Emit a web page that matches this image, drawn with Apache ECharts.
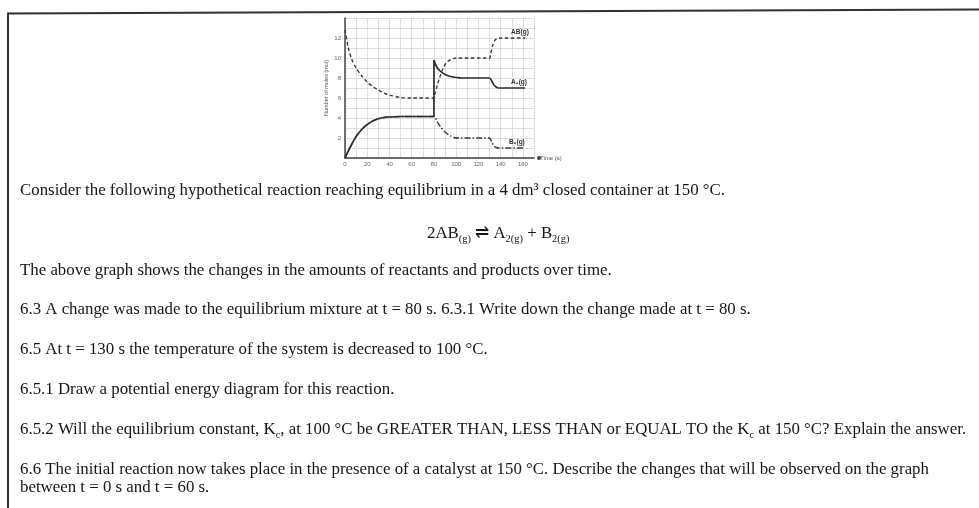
<!DOCTYPE html>
<html>
<head>
<meta charset="utf-8">
<script src="https://cdn.jsdelivr.net/npm/echarts@6/dist/echarts.min.js"></script>
<style>
html,body{margin:0;padding:0;background:#fff;}
#c{width:979px;height:508px;}
</style>
</head>
<body>
<div id="c"></div>
<script>
// ---- data ----
const seriesNames = ['AB(g)', 'A\u2082(g)', 'B\u2082(g)'];
const timeAB = [0, 3, 6, 10, 15, 20, 25, 30, 35, 40, 50, 60, 80, 81, 83, 85, 88, 91, 95, 100, 130, 131, 133, 135, 137, 140, 162];
const molesAB = [12.8, 11.0, 9.9, 9.0, 8.2, 7.6, 7.15, 6.8, 6.5, 6.3, 6.05, 6, 6, 6.4, 7.3, 8.0, 8.9, 9.5, 9.85, 10, 10, 10.4, 11.3, 11.8, 11.95, 12, 12];
const timeA2 = [0, 5, 10, 15, 20, 25, 30, 35, 40, 50, 80, 80, 82, 85, 90, 95, 100, 105, 130, 132, 134, 136, 138, 162];
const molesA2 = [0, 1.15, 2.15, 2.85, 3.35, 3.7, 3.92, 4.05, 4.1, 4.15, 4.15, 9.8, 9.2, 8.75, 8.35, 8.15, 8.05, 8, 8, 7.7, 7.3, 7.1, 7, 7];
const timeB2 = [0, 5, 10, 15, 20, 25, 30, 35, 40, 50, 80, 83, 86, 90, 94, 98, 102, 130, 132, 134, 136, 138, 160];
const molesB2 = [0, 1.15, 2.15, 2.85, 3.35, 3.7, 3.92, 4.05, 4.1, 4.15, 4.15, 3.6, 3.1, 2.6, 2.25, 2.05, 2, 2, 1.6, 1.2, 1.05, 1, 1];
const xTickLabels = [0, 20, 40, 60, 80, 100, 120, 140, 160];
const yTickLabels = [2, 4, 6, 8, 10, 12];
const xAxisName = 'Time (s)';
const yAxisName = 'Number of moles (mol)';

// ---- question text ----
const textLines = [
  'Consider the following hypothetical reaction reaching equilibrium in a 4 dm\u00b3 closed container at 150 \u00b0C.',
  '{m|2AB}{s|(g)}{m| \u21cc A}{s|2(g)}{m| + B}{s|2(g)}',
  'The above graph shows the changes in the amounts of reactants and products over time.',
  '6.3 A change was made to the equilibrium mixture at t = 80 s. 6.3.1 Write down the change made at t = 80 s.',
  '6.5 At t = 130 s the temperature of the system is decreased to 100 \u00b0C.',
  '6.5.1 Draw a potential energy diagram for this reaction.',
  '{m|6.5.2 Will the equilibrium constant, K}{s|c}{m|, at 100 \u00b0C be GREATER THAN, LESS THAN or EQUAL TO the K}{s|c}{m| at 150 \u00b0C? Explain the answer.}',
  '6.6 The initial reaction now takes place in the presence of a catalyst at 150 \u00b0C. Describe the changes that will be observed on the graph',
  'between t = 0 s and t = 60 s.'
];
const lineY = [191, 234, 271, 310, 350, 390, 430, 470, 488];
const lineX = [20, 427, 20, 20, 20, 20, 20, 20, 20];

// font size fitted so that the longest line spans ~947px (as in the reference)
const SERIF = '"Liberation Serif", "Times New Roman", serif';
const SANS = '"Liberation Sans", Arial, sans-serif';
const mctx = document.createElement('canvas').getContext('2d');
mctx.font = '100px ' + SERIF;
const wLong = mctx.measureText('6.5.2 Will the equilibrium constant, K, at 100 \u00b0C be GREATER THAN, LESS THAN or EQUAL TO the K at 150 \u00b0C? Explain the answer.').width
  + 2 * 0.62 * mctx.measureText('c').width;
let FS = 947 / wLong * 100;
if (!(FS > 10 && FS < 22)) FS = 16.3;
const TXT = '#161616';

function pairs(t, v) { return t.map((x, i) => [x, v[i]]); }

const graphics = textLines.map((t, i) => ({
  type: 'text',
  x: lineX[i],
  y: lineY[i],
  silent: true,
  style: {
    text: t,
    fill: TXT,
    font: FS + 'px ' + SERIF,
    verticalAlign: 'middle',
    align: 'left',
    rich: {
      m: { fontFamily: SERIF, fontSize: FS, color: TXT, lineHeight: 20, verticalAlign: 'middle' },
      s: { fontFamily: SERIF, fontSize: FS * 0.62, color: TXT, lineHeight: 11, verticalAlign: 'bottom' }
    }
  }
}));
// page frame
graphics.push({ type: 'line', silent: true, shape: { x1: 8, y1: 13.5, x2: 979, y2: 9.5 }, style: { stroke: '#333', lineWidth: 2 } });
graphics.push({ type: 'line', silent: true, shape: { x1: 8, y1: 12.5, x2: 8, y2: 508 }, style: { stroke: '#333', lineWidth: 2 } });

function endLbl(name) {
  return {
    show: true, formatter: name, distance: 0, offset: [-14, -6],
    fontSize: 6.5, fontWeight: 'bold', color: '#333', fontFamily: SANS
  };
}
const tickStyle = { fontSize: 6, color: '#666', fontFamily: SANS };

const chart = echarts.init(document.getElementById('c'), null, { renderer: 'canvas' });
chart.setOption({
  animation: false,
  backgroundColor: '#fff',
  grid: { left: 345, right: 445, top: 18, bottom: 350, containLabel: false },
  xAxis: {
    type: 'value', min: 0, max: 170, interval: 10,
    name: xAxisName, nameLocation: 'end', nameGap: 6,
    nameTextStyle: { fontSize: 6, color: '#555', padding: [14, 0, 0, 0], fontFamily: SANS },
    axisLine: { show: true, lineStyle: { color: '#444', width: 1.5 }, symbol: ['none', 'circle'], symbolSize: [4, 4], symbolOffset: [0, 5] },
    axisTick: { show: false },
    axisLabel: Object.assign({ margin: 3, formatter: v => xTickLabels.includes(v) ? String(v) : '' }, tickStyle),
    splitLine: { show: true, lineStyle: { color: '#d6d6d6', width: 0.8 } }
  },
  yAxis: {
    type: 'value', min: 0, max: 14, interval: 1,
    name: yAxisName, nameLocation: 'middle', nameGap: 16,
    nameTextStyle: { fontSize: 5.5, color: '#555', fontFamily: SANS },
    axisLine: { show: true, lineStyle: { color: '#444', width: 1.5 } },
    axisTick: { show: false },
    axisLabel: Object.assign({ margin: 4, formatter: v => yTickLabels.includes(v) ? String(v) : '' }, tickStyle),
    splitLine: { show: true, lineStyle: { color: '#d6d6d6', width: 0.8 } }
  },
  series: [
    {
      name: seriesNames[0], type: 'line', symbol: 'none', smooth: 0.25,
      data: pairs(timeAB, molesAB),
      lineStyle: { color: '#3a3a3a', width: 1.4, type: [3.5, 2.5] },
      endLabel: endLbl(seriesNames[0]), z: 3
    },
    {
      name: seriesNames[2], type: 'line', symbol: 'none', smooth: 0.25,
      data: pairs(timeB2, molesB2),
      lineStyle: { color: '#3a3a3a', width: 1.4, type: [6, 2, 1.5, 2] },
      endLabel: endLbl(seriesNames[2]), z: 3
    },
    {
      name: seriesNames[1], type: 'line', symbol: 'none', smooth: 0.25,
      data: pairs(timeA2, molesA2),
      lineStyle: { color: '#2e2e2e', width: 1.7 },
      endLabel: endLbl(seriesNames[1]), z: 4
    }
  ],
  graphic: graphics
});
</script>
</body>
</html>
